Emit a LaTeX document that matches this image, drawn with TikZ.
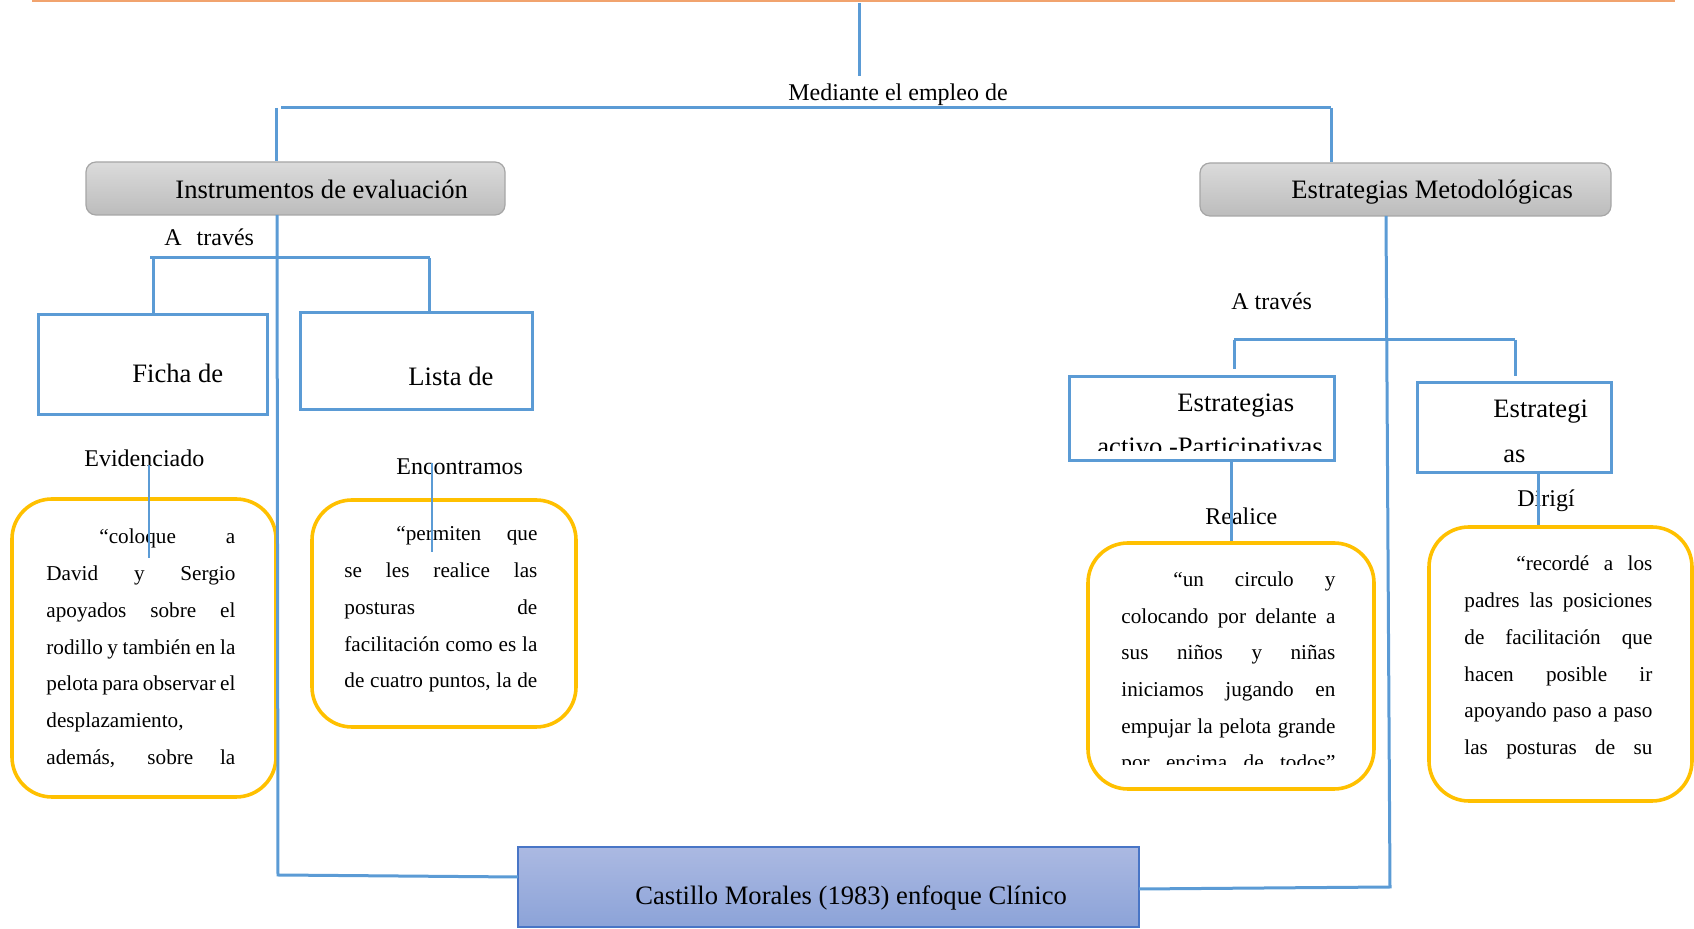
\documentclass[tikz,border=0pt]{standalone}
\usepackage{fontspec}
\setmainfont{Liberation Serif}
\usetikzlibrary{fit}
\definecolor{lineblue}{RGB}{91,155,213}
\definecolor{qyellow}{RGB}{255,192,0}
\definecolor{orangeline}{RGB}{241,163,110}
\definecolor{greytop}{RGB}{219,219,219}
\definecolor{greybot}{RGB}{188,188,188}
\definecolor{greyedge}{RGB}{166,166,166}
\definecolor{casttop}{RGB}{171,185,226}
\definecolor{castbot}{RGB}{140,163,216}
\definecolor{castedge}{RGB}{72,117,198}
\begin{document}
\begin{tikzpicture}[x=0.5pt,y=-0.5pt,
  conn/.style={draw=lineblue,line width=1.5pt},
  thinconn/.style={draw=lineblue,line width=0.7pt},
  greybox/.style={rounded corners=5pt,draw=greyedge,line width=0.6pt,top color=greytop,bottom color=greybot,inner sep=0pt},
  bluebox/.style={draw=lineblue,line width=1.5pt,inner sep=0pt},
  quotebox/.style={draw=qyellow,line width=1.8pt,rounded corners=20pt,inner sep=0pt},
  castbox/.style={draw=castedge,line width=0.9pt,top color=casttop,bottom color=castbot,inner sep=0pt},
  ttl/.style={font=\fontsize{13.3}{16}\selectfont,anchor=base west,inner sep=0pt},
  lbl/.style={font=\fontsize{12}{14}\selectfont,anchor=base west,inner sep=0pt},
  qtxt/.style={font=\fontsize{10.6}{13}\selectfont,anchor=base west,inner sep=0pt}]
\useasboundingbox (0,0) rectangle (1694,929);

% top orange rule
\coordinate (oL) at (32,1);
\coordinate (oR) at (1675,1);
\draw[draw=orangeline,line width=1pt] (oL) -- (oR);

% ---- boxes ----
\node[greybox,fit={(86,162) (505,215)}] (instr) {};
\node[ttl] (instrT) at (175,199) {Instrumentos de evaluación};
\node[greybox,fit={(1200,163) (1611,216)}] (estm) {};
\node[ttl] (estmT) at (1291,199) {Estrategias Metodológicas};

\node[bluebox,fit={(38,315) (267,415)}] (ficha) {};
\node[ttl] (fichaT) at (132,383) {Ficha de};
\node[bluebox,fit={(300,313) (532,410)}] (lista) {};
\node[ttl] (listaT) at (408,386) {Lista de};

\node[bluebox,fit={(1069,377) (1334,461)}] (activo) {};
\node[ttl] (activoT) at (1177,411.5) {Estrategias};
\begin{scope}
  \clip (1072,380) rectangle (1331,451);
  \node[ttl] (activoT2) at (1097,456) {activo -Participativas};
\end{scope}
\node[bluebox,fit={(1417,383) (1611,473)}] (estr) {};
\node[ttl] (estrT) at (1493,418) {Estrategi};
\node[ttl] (estrT2) at (1503,462.5) {as};

\node[castbox,fit={(518,847) (1139,927)}] (cast) {};
\node[ttl] (castT) at (635,905) {Castillo Morales (1983) enfoque Clínico};

% quote boxes
\node[quotebox,fit={(12,499) (276,797)}] (q1) {};
\node[quotebox,fit={(312,500) (576,727)}] (q2) {};
\node[quotebox,fit={(1088,543) (1374,789)}] (q3) {};
\node[quotebox,fit={(1429,527) (1692,801)}] (q4) {};

% quote texts
\node[qtxt] (q1l1) at (99,544) {\makebox[68pt][s]{“coloque a}};
\foreach \t [count=\i] in {{David y Sergio},{apoyados sobre el},{rodillo y también en la},{pelota para observar el},{desplazamiento,\hfill},{además, sobre la}}
  \node[qtxt] (q1l\i x) at (46,{544+36.7*\i}) {\makebox[94.5pt][s]{\t}};

\node[qtxt] (q2l1) at (396,541) {\makebox[70.5pt][s]{“permiten que}};
\foreach \t [count=\i] in {{se les realice las},{posturas de},{facilitación como es la},{de cuatro puntos, la de}}
  \node[qtxt] (q2l\i x) at (344,{541+36.7*\i}) {\makebox[96.5pt][s]{\t}};

\node[qtxt] (q3l1) at (1173,586.5) {\makebox[81pt][s]{“un circulo y}};
\foreach \t [count=\i] in {{colocando por delante a},{sus niños y niñas},{iniciamos jugando en},{empujar la pelota grande}}
  \node[qtxt] (q3l\i x) at (1121,{586.5+36.7*\i}) {\makebox[107pt][s]{\t}};
\begin{scope}
  \clip (1100,740) rectangle (1370,765);
  \node[qtxt] (q3l6) at (1121,770) {\makebox[107pt][s]{por encima de todos”}};
\end{scope}

\node[qtxt] (q4l1) at (1516,571) {\makebox[68pt][s]{“recordé a los}};
\foreach \t [count=\i] in {{padres las posiciones},{de facilitación que},{hacen posible ir},{apoyando paso a paso},{las posturas de su}}
  \node[qtxt] (q4l\i x) at (1464,{571+36.7*\i}) {\makebox[94pt][s]{\t}};

% ---- labels ----
\node[lbl] (med) at (788,101) {Mediante el empleo de};
\node[lbl] (atL) at (164,246) {A\hspace{7.5pt}través};
\node[lbl] (atR) at (1231,310) {A través};
\node[lbl] (evid) at (84,466.5) {Evidenciado};
\node[lbl] (enc) at (396,475) {Encontramos};
\node[lbl] (real) at (1205,525) {Realice};
\node[lbl] (dir) at (1517,506.5) {Dirigí};

% ---- connectors ----
\coordinate (topS) at (859,3);
\coordinate (topE) at (859,76);
\draw[conn] (topS) -- (topE);

\coordinate (hL) at (276,108);
\coordinate (hL2) at (281,108);
\coordinate (hR) at (1331,108);
\draw[conn] (hL2) -- (hR);
\draw[conn] (hL) -- (hL |- instr.north);
\draw[conn] (hR) -- (hR |- estm.north);

% left trunk to Castillo
\coordinate (tLtop) at (277,215);
\coordinate (tLbot) at (278,875);
\coordinate (castL) at (518,877);
\draw[conn] (tLtop) -- (tLbot) -- (castL);

% right trunk to Castillo
\coordinate (tRtop) at (1386,216);
\coordinate (tRbot) at (1390,887);
\coordinate (castR) at (1139,889);
\draw[conn] (tRtop) -- (tRbot) -- (castR);

% left branches
\coordinate (bL1) at (150,258);
\coordinate (bL2) at (430,258);
\draw[conn] (bL1) -- (bL2);
\coordinate (bLa) at (153,258);
\coordinate (bLb) at (429,258);
\draw[conn] (bLa) -- (bLa |- ficha.north);
\draw[conn] (bLb) -- (bLb |- lista.north);

% thin label lines
\coordinate (e1) at (149,465);
\coordinate (e2) at (149,558);
\draw[thinconn] (e1) -- (e2);
\coordinate (n1) at (432,463);
\coordinate (n2) at (432,552);
\draw[thinconn] (n1) -- (n2);

% right branches
\coordinate (bR1) at (1234,340);
\coordinate (bR2) at (1515,340);
\draw[conn] (bR1) -- (bR2);
\coordinate (bR1e) at (1234,369);
\coordinate (bR2e) at (1515,376);
\draw[conn] (bR1) -- (bR1e);
\draw[conn] (bR2) -- (bR2e);

% boxes to quotes
\coordinate (aq) at (1231,461);
\draw[conn] (aq) -- (aq |- q3.north);
\coordinate (eq) at (1538,473);
\draw[conn] (eq) -- (eq |- q4.north);
\end{tikzpicture}
\end{document}
